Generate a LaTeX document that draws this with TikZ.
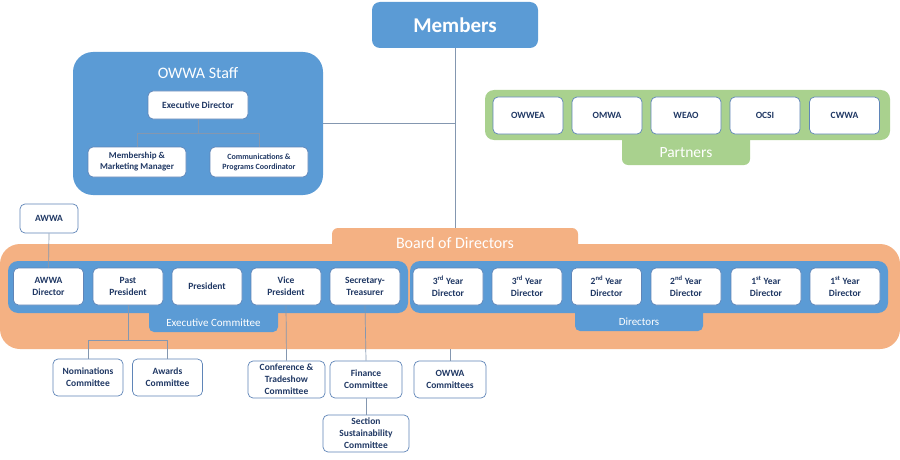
\documentclass[tikz,border=0pt]{standalone}
\usepackage{fontspec}
\setmainfont{Carlito}
\usetikzlibrary{positioning, calc}
\definecolor{owblue}{HTML}{5B9BD5}
\definecolor{oworange}{HTML}{F4B183}
\definecolor{owgreen}{HTML}{A9D18E}
\definecolor{navy}{HTML}{203864}
\definecolor{cardline}{HTML}{5F85B8}
\definecolor{wire}{HTML}{8497B0}

\begin{document}
\begin{tikzpicture}[x=1pt, y=-1pt,
  card/.style={draw=cardline, fill=white, rounded corners=5pt, line width=0.7pt,
    align=center, text=navy, font=\bfseries\fontsize{9.5}{12}\selectfont,
    minimum width=70, minimum height=37, inner sep=1pt},
  panel/.style={fill=#1, inner sep=0pt, rounded corners=20pt},
  tab/.style={fill=#1, inner sep=0pt, rounded corners=5pt},
  title/.style={text=white, inner sep=0pt, font=\fontsize{#1}{#1}\selectfont},
  link/.style={draw=wire, line width=0.7pt}]
  \useasboundingbox[fill=white] (0,0) rectangle (900,460);

  % Members
  \node[tab=owblue, rounded corners=8pt, minimum width=166, minimum height=46,
    text=white, font=\bfseries\fontsize{21}{21}\selectfont] (members) at (455,25) {Members};

  % OWWA staff
  \node[panel=owblue, minimum width=250, minimum height=143] (staff) at (198,123.5) {};
  \node[title=16] (stafftitle) at (198,73) {OWWA Staff};
  \node[card, minimum width=100, minimum height=28] (execdir) at (198,105) {Executive Director};
  \node[card, minimum width=98, minimum height=30, font=\bfseries\fontsize{9}{11}\selectfont]
    (memb) at (137,162) {Membership \&\\Marketing Manager};
  \node[card, minimum width=98, minimum height=30, font=\bfseries\fontsize{8}{10}\selectfont]
    (comms) at (259,162) {Communications \&\\Programs Coordinator};

  % Partners
  \node[panel=owgreen, rounded corners=9pt, minimum width=405, minimum height=50] (partners) at (687.5,115) {};
  \node[tab=owgreen, rounded corners=6pt, minimum width=128, minimum height=37] (partnerstab) at (686,146.5) {};
  \node[title=15.5] (partnerstext) at (686,153) {Partners};
  \node[card] (owwea) at (528,115.5) {OWWEA};
  \node[card] (omwa) at (607,115.5) {OMWA};
  \node[card] (weao) at (686,115.5) {WEAO};
  \node[card] (ocsi) at (765,115.5) {OCSI};
  \node[card] (cwwa) at (844.5,115.5) {CWWA};

  % AWWA
  \node[card, minimum width=58, minimum height=29] (awwa) at (49,218.5) {AWWA};

  % Board of directors
  \node[panel=oworange, minimum width=900, minimum height=105] (board) at (450,296.5) {};
  \node[tab=oworange, rounded corners=6pt, minimum width=246, minimum height=30,
    title=16] (boardtab) at (455,243) {Board of Directors};

  % Executive committee
  \node[panel=owblue, rounded corners=10pt, minimum width=400, minimum height=52] (exec) at (208,287) {};
  \node[tab=owblue, minimum width=129, minimum height=32] (exectab) at (213.5,316) {};
  \node[title=11] (exectext) at (213.5,323) {Executive Committee};
  \node[card] (awwadir) at (48.5,286.5) {AWWA\\Director};
  \node[card] (pastpres) at (128,286.5) {Past\\President};
  \node[card] (pres) at (207,286.5) {President};
  \node[card] (vicepres) at (286,286.5) {Vice\\President};
  \node[card] (sectreas) at (365,286.5) {Secretary-\\Treasurer};

  % Directors
  \node[panel=owblue, rounded corners=10pt, minimum width=478, minimum height=52] (dirs) at (649,287) {};
  \node[tab=owblue, minimum width=128, minimum height=31] (dirstab) at (639,315.5) {};
  \node[title=11] (dirstext) at (639,322) {Directors};
  \node[card] (dira) at (448,286.5) {3\textsuperscript{rd} Year\\Director};
  \node[card] (dirb) at (527,286.5) {3\textsuperscript{rd} Year\\Director};
  \node[card] (dirc) at (606.5,286.5) {2\textsuperscript{nd} Year\\Director};
  \node[card] (dird) at (686,286.5) {2\textsuperscript{nd} Year\\Director};
  \node[card] (dire) at (766,286.5) {1\textsuperscript{st} Year\\Director};
  \node[card] (dirf) at (845,286.5) {1\textsuperscript{st} Year\\Director};

  % Committees
  \node[card] (nomin) at (88,377.5) {Nominations\\Committee};
  \node[card] (awards) at (167.5,377.5) {Awards\\Committee};
  \node[card, minimum width=77] (conf) at (286.5,379.5) {Conference \&\\Tradeshow\\Committee};
  \node[card, minimum width=72] (finance) at (366,379.5) {Finance\\Committee};
  \node[card, minimum width=86] (section) at (366,433.5) {Section\\Sustainability\\Committee};
  \node[card, minimum width=72] (owwacom) at (450,379.5) {OWWA\\Committees};

  % Connectors
  \draw[link] (members.south) -- (boardtab.north);
  \draw[link] (staff.east) -- (staff.east -| members.south);
  \draw[link] (execdir.south) -- ++(0,14) coordinate (edfork);
  \draw[link] (memb.north) |- (edfork) -| (comms.north);
  \draw[link] (awwa.south) -- (awwadir.north);
  \draw[link] (pastpres.south) -- ++(0,35) coordinate (ppfork);
  \draw[link] (nomin.north) |- (ppfork) -| (awards.north);
  \draw[link] (vicepres.south) -- (conf.north);
  \draw[link] (sectreas.south) -- (finance.north);
  \draw[link] (finance.south) -- (section.north);
  \draw[link] (board.south) -- (owwacom.north);
\end{tikzpicture}
\end{document}
